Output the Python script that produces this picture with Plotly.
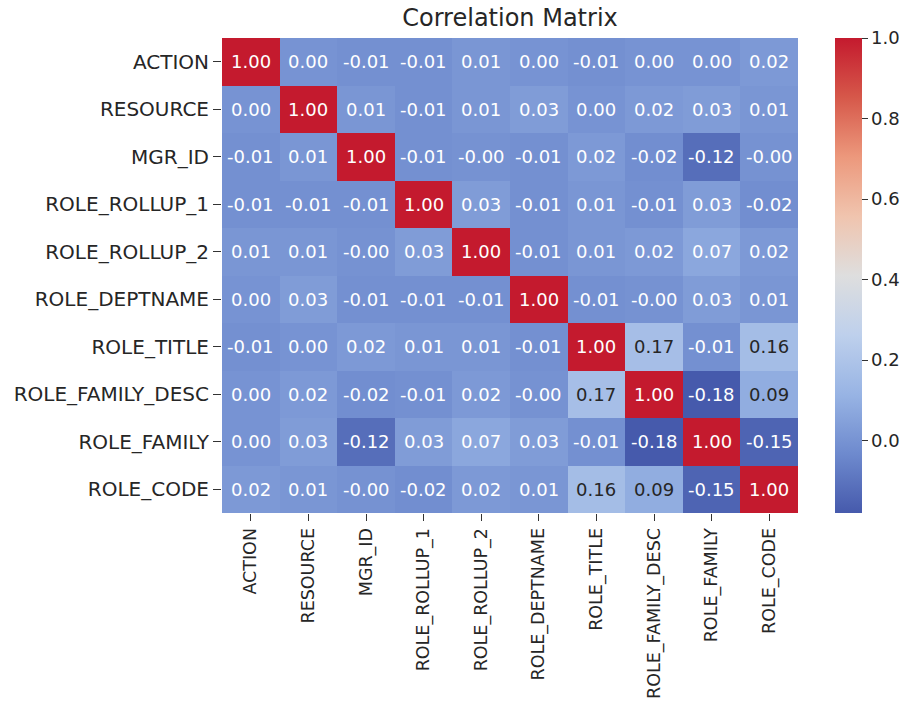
import plotly.graph_objects as go

# Feature names (rows and columns of the correlation matrix)
features = [
    "ACTION", "RESOURCE", "MGR_ID", "ROLE_ROLLUP_1", "ROLE_ROLLUP_2",
    "ROLE_DEPTNAME", "ROLE_TITLE", "ROLE_FAMILY_DESC", "ROLE_FAMILY", "ROLE_CODE",
]

# Pairwise correlations, one list per row
row_action        = [1.00, 0.00, -0.01, -0.01, 0.01, 0.00, -0.01, 0.00, 0.00, 0.02]
row_resource      = [0.00, 1.00, 0.01, -0.01, 0.01, 0.03, 0.00, 0.02, 0.03, 0.01]
row_mgr_id        = [-0.01, 0.01, 1.00, -0.01, -0.004, -0.01, 0.02, -0.02, -0.12, -0.004]
row_rollup_1      = [-0.01, -0.01, -0.01, 1.00, 0.03, -0.01, 0.01, -0.01, 0.03, -0.02]
row_rollup_2      = [0.01, 0.01, -0.004, 0.03, 1.00, -0.01, 0.01, 0.02, 0.07, 0.02]
row_deptname      = [0.00, 0.03, -0.01, -0.01, -0.01, 1.00, -0.01, -0.004, 0.03, 0.01]
row_title         = [-0.01, 0.00, 0.02, 0.01, 0.01, -0.01, 1.00, 0.17, -0.01, 0.16]
row_family_desc   = [0.00, 0.02, -0.02, -0.01, 0.02, -0.004, 0.17, 1.00, -0.18, 0.09]
row_family        = [0.00, 0.03, -0.12, 0.03, 0.07, 0.03, -0.01, -0.18, 1.00, -0.15]
row_code          = [0.02, 0.01, -0.004, -0.02, 0.02, 0.01, 0.16, 0.09, -0.15, 1.00]

corr = [
    row_action, row_resource, row_mgr_id, row_rollup_1, row_rollup_2,
    row_deptname, row_title, row_family_desc, row_family, row_code,
]

# Diverging blue-grey-red scale (coolwarm style, slightly muted)
stops = [
    (0.000, (70, 90, 172)),
    (0.125, (110, 138, 206)),
    (0.250, (152, 180, 228)),
    (0.375, (190, 208, 236)),
    (0.500, (222, 222, 222)),
    (0.625, (240, 196, 174)),
    (0.750, (236, 152, 124)),
    (0.875, (214, 88, 74)),
    (1.000, (196, 26, 46)),
]
colorscale = [[s, "rgb(%d,%d,%d)" % c] for s, c in stops]

zmin = min(min(r) for r in corr)
zmax = 1.0


def color_at(v):
    t = (v - zmin) / (zmax - zmin)
    t = max(0.0, min(1.0, t))
    for (s0, c0), (s1, c1) in zip(stops[:-1], stops[1:]):
        if s0 <= t <= s1:
            f = (t - s0) / (s1 - s0) if s1 > s0 else 0
            return tuple(a + (b - a) * f for a, b in zip(c0, c1))
    return stops[-1][1]


def luminance(rgb):
    def ch(c):
        c = c / 255.0
        return c / 12.92 if c <= 0.03928 else ((c + 0.055) / 1.055) ** 2.4
    r, g, b = rgb
    return 0.2126 * ch(r) + 0.7152 * ch(g) + 0.0722 * ch(b)


fig = go.Figure(
    go.Heatmap(
        z=corr,
        x=features,
        y=features,
        zmin=zmin,
        zmax=zmax,
        colorscale=colorscale,
        xgap=0,
        ygap=0,
        colorbar=dict(
            x=(835 - 222) / 576,
            xanchor="left",
            xpad=0,
            y=0.5,
            yanchor="middle",
            ypad=0,
            len=1.0,
            lenmode="fraction",
            thickness=27,
            outlinewidth=0,
            tickvals=[0.0, 0.2, 0.4, 0.6, 0.8, 1.0],
            ticktext=["0.0", "0.2", "0.4", "0.6", "0.8", "1.0"],
            ticks="outside",
            ticklen=6,
            tickwidth=1.2,
            tickcolor="#333333",
            tickfont=dict(family="DejaVu Sans", size=18, color="#262626"),
        ),
        hoverinfo="skip",
    )
)

# Cell value labels
annotations = []
for i, rname in enumerate(features):
    for j, cname in enumerate(features):
        v = corr[i][j]
        txt_color = "#262626" if luminance(color_at(v)) > 0.408 else "#ffffff"
        annotations.append(
            dict(
                x=cname, y=rname, xref="x", yref="y",
                text=f"{v:.2f}", showarrow=False,
                font=dict(family="DejaVu Sans", size=18, color=txt_color),
            )
        )

fig.update_layout(
    width=911,
    height=702,
    margin=dict(l=222, r=113, t=38, b=189, autoexpand=False),
    paper_bgcolor="white",
    plot_bgcolor="white",
    title=dict(
        text="Correlation Matrix",
        x=0.5, xref="paper", xanchor="center",
        y=1 - 18 / 702, yref="container", yanchor="middle",
        font=dict(family="DejaVu Sans", size=24, color="#262626"),
    ),
    annotations=annotations,
    xaxis=dict(
        tickangle=-90,
        ticks="outside", ticklen=7, tickwidth=1.2, tickcolor="#333333",
        tickfont=dict(family="DejaVu Sans", size=17.5, color="#262626"),
        showgrid=False, zeroline=False, showline=False,
    ),
    yaxis=dict(
        autorange="reversed",
        ticks="outside", ticklen=8, tickwidth=1.2, tickcolor="#333333",
        tickfont=dict(family="DejaVu Sans", size=20, color="#262626"),
        showgrid=False, zeroline=False, showline=False,
    ),
)

fig.write_html("out.html")
